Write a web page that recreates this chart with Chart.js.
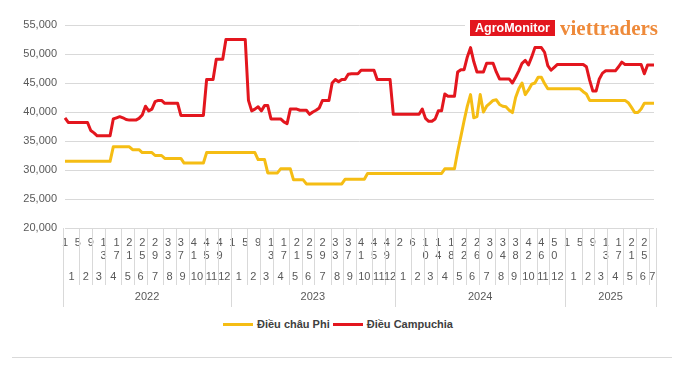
<!DOCTYPE html>
<html>
<head>
<meta charset="utf-8">
<script src="https://cdn.jsdelivr.net/npm/chart.js@4.4.1/dist/chart.umd.min.js"></script>
<style>
  html, body { margin: 0; padding: 0; background: #fff; }
  #wrap { position: relative; width: 695px; height: 371px; overflow: hidden; font-family: "Liberation Sans", Arial, sans-serif; }
  #chart-box { position: absolute; left: 0; top: 0; width: 695px; height: 312px; }
  #logo { position: absolute; left: 465px; top: 16px; width: 198px; height: 22px; background: #fff; }
  #logo .agro { position: absolute; left: 5px; top: 4px; width: 85px; height: 16px; background: #e3161e; color: #fff;
                font: bold 12.5px "Liberation Sans", Arial, sans-serif; line-height: 16px; text-align: center; }
  #logo .vt { position: absolute; left: 95px; top: 0.5px; color: #ee8a3a; font: bold 21px "Liberation Serif", serif; line-height: 22px; white-space: nowrap; }
  #legend-container { position: absolute; left: 223px; top: 317px; display: flex; align-items: center; height: 14px; }
  .legend-item { display: flex; align-items: center; font: bold 11px "Liberation Sans", Arial, sans-serif; color: #404040; margin-right: 3px; white-space: nowrap; }
  .legend-color-box { display: inline-block; width: 30px; height: 3px; margin-right: 4px; }
  #bottom-rule { position: absolute; left: 12px; top: 357px; width: 660px; height: 1px; background: #d9d9d9; }
</style>
</head>
<body>
<div id="wrap">
  <div id="chart-box"><canvas id="priceChart"></canvas></div>
  <div id="logo"><div class="agro">AgroMonitor</div><div class="vt">viettraders</div></div>
  <div id="legend-container"></div>
  <div id="bottom-rule"></div>
</div>
<script>
// --- datos (VND/kg, semanal) ---
const years = ['2022', '2023', '2024', '2025'];
const weeksPerYear = [52, 51, 53, 28];

const yMin = 20000;
const yMax = 55000;
const yStep = 5000;

// Điều châu Phi
const chauPhi = [
  // 2022
  31500, 31500, 31500, 31500, 31500, 31500, 31500, 31500, 31500, 31500, 31500, 31500, 31500, 31500, 31500,
  34000, 34000, 34000, 34000, 34000, 34000, 33500, 33500, 33500, 33000, 33000, 33000, 33000,
  32500, 32500, 32500, 32000, 32000, 32000, 32000, 32000, 32000,
  31200, 31200, 31200, 31200, 31200, 31200, 31200, 33000, 33000, 33000, 33000, 33000, 33000, 33000, 33000,
  // 2023
  33000, 33000, 33000, 33000, 33000, 33000, 33000, 33000, 31800, 31800, 31800,
  29500, 29500, 29500, 29500, 30200, 30200, 30200, 30200, 28300, 28300, 28300, 28300,
  27600, 27600, 27600, 27600, 27600, 27600, 27600, 27600, 27600, 27600, 27600, 27600,
  28400, 28400, 28400, 28400, 28400, 28400, 28400, 29400, 29400, 29400, 29400, 29400, 29400, 29400, 29400, 29400,
  // 2024
  29400, 29400, 29400, 29400, 29400, 29400, 29400, 29400, 29400, 29400, 29400, 29400, 29400, 29400, 29400,
  30200, 30200, 30200, 30200, 33200, 35800, 38500, 41000, 43000, 39000, 39200, 43000, 40000, 41000, 41500, 42000,
  42100, 41300, 41000, 40900, 40300, 39900, 42500, 44000, 45000, 43000, 43800, 44800, 45000, 46000, 46000, 44900,
  44000, 44000, 44000, 44000, 44000, 44000,
  // 2025
  44000, 44000, 44000, 44000, 44000, 43500, 43100,
  42000, 42000, 42000, 42000, 42000, 42000, 42000, 42000, 42000, 42000, 42000, 42000,
  41600, 40800, 39900, 39900, 40500, 41500, 41500, 41500, 41500
];

// Điều Campuchia
const campuchia = [
  // 2022
  39000, 38200, 38200, 38200, 38200, 38200, 38200, 38200, 36800, 36400, 35900, 35900, 35900, 35900, 35900,
  38800, 39000, 39200, 39000, 38700, 38600, 38600, 38600, 38900, 39500, 41000, 40200, 40500, 41800, 42000, 42000,
  41500, 41500, 41500, 41500, 41500, 39400, 39400, 39400, 39400, 39400, 39400, 39400, 39400,
  45600, 45600, 45600, 49100, 49100, 49100, 52500, 52500,
  // 2023
  52500, 52500, 52500, 52500, 52500, 42000, 40200, 40500, 40900, 40200, 41100, 41100,
  38800, 38800, 38800, 38800, 38300, 38000, 40500, 40500, 40500, 40300, 40300, 40300,
  39600, 40000, 40300, 40700, 42000, 42000, 42000, 45000, 45600, 45200, 45600, 45600, 46500,
  46600, 46600, 46600, 47200, 47200, 47200, 47200, 47200, 45600, 45600, 45600, 45600, 45600, 39600,
  // 2024
  39600, 39600, 39600, 39600, 39600, 39600, 39600, 39600, 40500, 38900, 38400, 38400, 38800, 40200, 40200,
  43100, 42700, 42700, 42700, 46900, 47300, 47300, 49500, 51100, 48700, 46900, 46900, 46900, 48400, 48400, 48400,
  46900, 45700, 45700, 45700, 45700, 45000, 46000, 47100, 48400, 48900, 48100, 49500, 51100, 51100, 51100,
  50300, 48000, 47200, 47700, 48200, 48200, 48200,
  // 2025
  48200, 48200, 48200, 48200, 48200, 48200, 47800, 45500, 43600, 43600, 45700, 46700,
  47100, 47100, 47100, 47100, 47800, 48600, 48200, 48200, 48200, 48200, 48200, 48200, 46600, 48100, 48100, 48100
];

// --- categorías: semana / mes / año ---
const weekLabels = [];
const monthOfWeek = [];
const yearOfWeek = [];
years.forEach((yr, yi) => {
  for (let w = 1; w <= weeksPerYear[yi]; w++) {
    weekLabels.push(String(w));
    monthOfWeek.push(Math.min(12, Math.floor((w - 1) * 12 / 52) + 1));
    yearOfWeek.push(yi);
  }
});

const FONT = '"Liberation Sans", Arial, sans-serif';
const TEXT_GRAY = '#595959';
const LINE_GRAY = '#d9d9d9';

// dibuja las filas de meses y años debajo del eje x
const multiLevelAxis = {
  id: 'multiLevelAxis',
  afterDraw(chart) {
    const { ctx, scales: { x } } = chart;
    const n = weekLabels.length;
    const top = Math.round(x.top);
    const step = x.getPixelForValue(1) - x.getPixelForValue(0);
    const edge = i => Math.round(x.getPixelForValue(i) - step / 2) + 0.5;

    ctx.save();
    ctx.strokeStyle = LINE_GRAY;
    ctx.lineWidth = 1;
    ctx.fillStyle = TEXT_GRAY;
    ctx.font = '11px ' + FONT;
    ctx.textAlign = 'center';
    ctx.textBaseline = 'middle';

    const vline = (px, len) => {
      ctx.beginPath();
      ctx.moveTo(px, top);
      ctx.lineTo(px, top + len);
      ctx.stroke();
    };

    vline(edge(0), 79);
    let mStart = 0;
    let yStart = 0;
    for (let i = 1; i <= n; i++) {
      const newYear = i === n || yearOfWeek[i] !== yearOfWeek[yStart];
      const newMonth = newYear || monthOfWeek[i] !== monthOfWeek[mStart];
      if (newMonth) {
        const cx = (x.getPixelForValue(mStart) + x.getPixelForValue(i - 1)) / 2;
        ctx.fillText(String(monthOfWeek[mStart]), cx, top + 49);
        vline(edge(i), newYear ? 79 : 57);
        mStart = i;
      }
      if (newYear) {
        const cx = (x.getPixelForValue(yStart) + x.getPixelForValue(i - 1)) / 2;
        ctx.fillText(years[yearOfWeek[yStart]], cx, top + 69);
        yStart = i;
      }
    }
    ctx.restore();
  }
};

function generateHtmlLegend(chart) {
  const legendContainer = document.getElementById('legend-container');
  legendContainer.innerHTML = '';
  chart.data.datasets.forEach(ds => {
    const div = document.createElement('div');
    div.classList.add('legend-item');
    const colorBox = document.createElement('span');
    colorBox.classList.add('legend-color-box');
    colorBox.style.backgroundColor = ds.borderColor;
    div.appendChild(colorBox);
    div.appendChild(document.createTextNode(ds.label));
    legendContainer.appendChild(div);
  });
}

const ctx = document.getElementById('priceChart').getContext('2d');
const myChart = new Chart(ctx, {
  type: 'line',
  data: {
    labels: weekLabels,
    datasets: [
      {
        label: 'Điều châu Phi',
        data: chauPhi,
        borderColor: '#f5bd14',
        backgroundColor: '#f5bd14',
        borderWidth: 3,
        pointRadius: 0,
        tension: 0,
        borderJoinStyle: 'round',
        order: 2
      },
      {
        label: 'Điều Campuchia',
        data: campuchia,
        borderColor: '#e3161e',
        backgroundColor: '#e3161e',
        borderWidth: 3,
        pointRadius: 0,
        tension: 0,
        borderJoinStyle: 'round',
        order: 1
      }
    ]
  },
  options: {
    responsive: true,
    maintainAspectRatio: false,
    animation: false,
    layout: { padding: { top: 25, right: 41, left: 0, bottom: 0 } },
    plugins: {
      legend: { display: false },
      tooltip: { enabled: false }
    },
    scales: {
      x: {
        grid: { display: false, drawTicks: false },
        border: { display: false },
        ticks: {
          autoSkip: false,
          maxRotation: 0,
          minRotation: 0,
          padding: 8,
          color: TEXT_GRAY,
          font: { size: 11, family: FONT },
          callback: (value, index) => index % 4 === 0 ? weekLabels[index].split('') : ''
        },
        afterFit: scale => { scale.height = 84; }
      },
      y: {
        min: yMin,
        max: yMax,
        grid: { color: LINE_GRAY, drawTicks: false },
        border: { display: false },
        ticks: {
          stepSize: yStep,
          padding: 8,
          color: TEXT_GRAY,
          font: { size: 11, family: FONT },
          callback: v => v.toLocaleString('en-US')
        },
        afterFit: scale => { scale.width = 65; }
      }
    }
  },
  plugins: [multiLevelAxis]
});

generateHtmlLegend(myChart);
</script>
</body>
</html>
